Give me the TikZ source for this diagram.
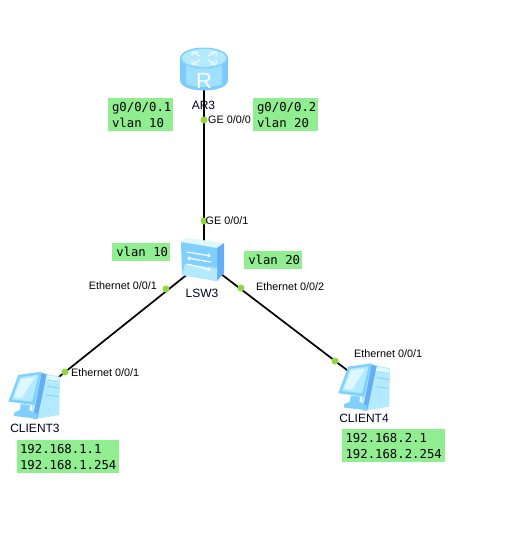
\documentclass[tikz,border=0pt]{standalone}
\usepackage{fontspec}
\setmainfont{Liberation Sans}
\newfontfamily\boxfont{DejaVu Sans Mono}
\usetikzlibrary{arrows.meta}
\definecolor{boxgreen}{HTML}{90EE90}
\definecolor{dotgreen}{HTML}{8FD63F}
\definecolor{iconlight}{HTML}{B4EAFF}
\definecolor{iconmid}{HTML}{7FD0FF}
\definecolor{icondark}{HTML}{63AEF5}
\definecolor{iconpale}{HTML}{DDF8FF}
\tikzset{
  link/.style={draw=black,line width=1.7pt},
  portdot/.style={circle,fill=dotgreen,draw=none,inner sep=0pt,minimum size=7pt},
  lab/.style={font=\fontsize{10.8}{13}\selectfont,inner sep=0pt,text=black},
  devname/.style={font=\fontsize{12}{14}\selectfont,inner sep=0pt,text=black!85!blue},
  cfg/.style={fill=boxgreen,draw=none,inner sep=0pt,anchor=north west,text=black,
    font=\boxfont\fontsize{12.3}{16}\selectfont,align=left},
  wave/.style={draw=white,line width=1.2pt,-{Stealth[length=3.5pt,width=4.5pt]}}
}
% PC icon, in coordinates of a 3x crop; #1 = offset of the crop
\newcommand{\pcicon}[1]{%
\begin{scope}[shift={(#1)},x=0.3333pt,y=0.3333pt]
  % tower
  \fill[iconlight] (122,38) -- (180,50) -- (178,165) -- (100,178) -- (92,120) -- cycle;
  \fill[iconpale] (140,45) -- (178,52) -- (177,70) -- (136,62) -- cycle;
  \draw[iconmid,line width=0.8pt] (140,60) -- (176,66) (140,78) -- (176,84) (136,105) -- (176,110);
  \fill[icondark] (125,38) -- (140,44) -- (112,176) -- (98,176) -- cycle;
  % base
  \fill[iconmid] (62,132) -- (90,135) -- (88,150) -- (112,163) -- (110,176) -- (42,168) -- (42,158) -- (60,150) -- cycle;
  % monitor
  \fill[iconmid] (55,45) -- (125,35) -- (103,135) -- (25,125) -- cycle;
  \fill[iconlight] (60,52) -- (116,44) -- (96,125) -- (36,118) -- cycle;
  \fill[iconpale] (63,57) -- (105,51) -- (66,114) -- (42,112) -- cycle;
\end{scope}}
\begin{document}
\begin{tikzpicture}[x=1pt,y=1pt,yscale=-1]
\useasboundingbox (0,0) rectangle (504,544);
\fill[white] (0,0) rectangle (504,544);
\coordinate (ar3) at (204,70);
\coordinate (lsw3) at (204,261);
\coordinate (client3) at (35,396);
\coordinate (client4) at (364,383);
% connectors
\draw[link] (ar3) -- (lsw3);
\draw[link] (lsw3) -- (client3);
\draw[link] (lsw3) -- (client4);
% router icon
\fill[iconmid!85!icondark] (180,58) -- (180,80) .. controls (180,87) and (192,90.5) .. (204,90.5) .. controls (216,90.5) and (228,87) .. (228,80) -- (228,58) -- cycle;
\fill[iconlight!60!iconmid] (186,60) -- (186,84) .. controls (192,88) and (216,88) .. (222,84) -- (222,60) -- cycle;
\fill[iconmid] (204,58) ellipse[x radius=24,y radius=10.5];
\fill[iconlight] (204,58) ellipse[x radius=22,y radius=9];
\draw[white,line width=1pt] (194,53) -- (200,56) (214,53) -- (208,56) (194,63) -- (200,60) (214,63) -- (208,60) (198,52) -- (192,52) (192,52)--(192,56) (210,52) -- (216,52) (216,52)--(216,56) (198,64) -- (192,64) (192,64)--(192,60) (210,64) -- (216,64) (216,64)--(216,60);
\node[font=\fontsize{22}{22}\selectfont,text=white,inner sep=0pt] (rtext) at (204,81) {R};
% switch icon
\fill[iconpale] (181,242) -- (187,238) -- (224,243) -- (217,248) -- cycle;
\fill[icondark] (217,248) -- (224,243) -- (224,273) -- (217,281) -- cycle;
\fill[iconmid] (181,242) -- (217,248) -- (217,281) -- (182,275) -- cycle;
\fill[iconlight] (185,264) -- (217,268) -- (217,281) -- (182,275) -- cycle;
\draw[wave] (187,252) -- (211,256);
\draw[wave] (211,262) -- (187,258);
\draw[wave] (187,264) -- (211,270);
% PC icons
\pcicon{0,360}
\pcicon{330,351.6}
% port dots
\node[portdot] (p1) at (204,120) {};
\node[portdot] (p2) at (204,221) {};
\node[portdot] (p3) at (166,289) {};
\node[portdot] (p4) at (241,288) {};
\node[portdot] (p5) at (65,372) {};
\node[portdot] (p6) at (335,361) {};
% labels
\node[devname] (l1) at (203.5,105) {AR3};
\node[devname] (l2) at (202,293.5) {LSW3};
\node[devname] (l3) at (35,428) {CLIENT3};
\node[devname] (l4) at (364,418) {CLIENT4};
\node[lab,anchor=west] (e1) at (208,120) {GE 0/0/0};
\node[lab,anchor=west] (e2) at (205.5,221) {GE 0/0/1};
\node[lab,anchor=east] (e3) at (157,285.5) {Ethernet 0/0/1};
\node[lab,anchor=west] (e4) at (256,287) {Ethernet 0/0/2};
\node[lab,anchor=west] (e5) at (71,373) {Ethernet 0/0/1};
\node[lab,anchor=west] (e6) at (354,354) {Ethernet 0/0/1};
% config boxes
\node[cfg,minimum width=65pt,minimum height=33pt] (b1) at (108,98) {\hspace{2pt}g0/0/0.1\\\hspace{2pt}vlan 10};
\node[cfg,minimum width=65pt,minimum height=33pt] (b2) at (253,98) {\hspace{2pt}g0/0/0.2\\\hspace{2pt}vlan 20};
\node[cfg,minimum width=58pt,minimum height=18pt] (b3) at (112,243) {\hspace{2pt}vlan 10};
\node[cfg,minimum width=58pt,minimum height=18pt] (b4) at (244,250.5) {\hspace{2pt}vlan 20};
\node[cfg,minimum width=102pt,minimum height=33pt] (b5) at (17,440) {\hspace{0pt}192.168.1.1\\\hspace{0pt}192.168.1.254};
\node[cfg,minimum width=103pt,minimum height=33pt] (b6) at (342,429) {\hspace{0pt}192.168.2.1\\\hspace{0pt}192.168.2.254};
\end{tikzpicture}
\end{document}
